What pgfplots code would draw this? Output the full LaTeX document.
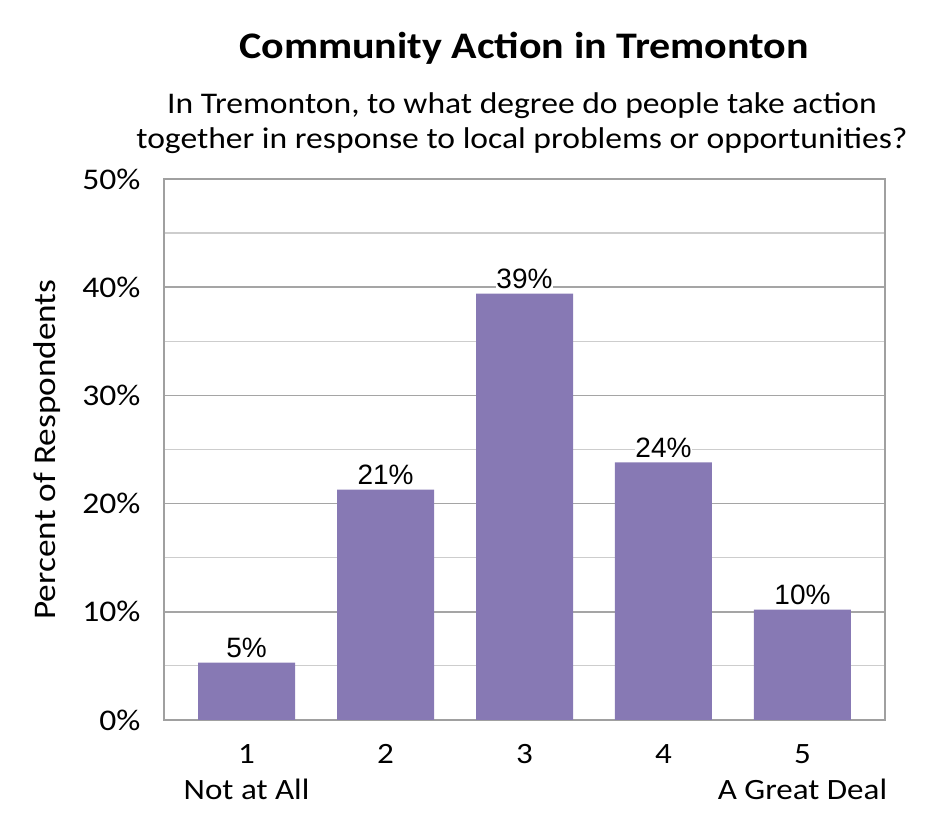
\documentclass[border=0pt]{standalone}
\usepackage{pgfplots}
\pgfplotsset{compat=1.18}
\usepackage{fontspec}
\setmainfont{Carlito}[FakeStretch=1.12]
\newfontfamily\arialfont{Liberation Sans}
\definecolor{barc}{RGB}{135,121,180}
\definecolor{gridmaj}{RGB}{165,165,165}
\definecolor{gridmin}{RGB}{205,205,205}
\definecolor{axc}{RGB}{160,160,160}
\begin{document}
\begin{tikzpicture}[x=1bp,y=1bp]
\path[use as bounding box] (0,0) rectangle (945,840);
\node[font=\fontsize{37.5bp}{44bp}\selectfont\bfseries] at (524,792) {Community Action in Tremonton};
\node[font=\fontsize{30bp}{35bp}\selectfont, align=center] at (522,717) {In Tremonton, to what degree do people take action\\together in response to local problems or opportunities?};
\begin{axis}[
  at={(164bp,120bp)}, anchor=south west,
  scale only axis, width=721bp, height=541bp,
  ymin=0, ymax=50, xmin=0.406, xmax=5.594,
  ybar, bar width=0.698,
  ytick={0,10,...,50}, minor ytick={5,15,...,45},
  yticklabel={\pgfmathprintnumber[assume math mode=true]{\tick}\%},
  xtick={1,2,3,4,5},
  xticklabels={{1\\Not at All},2,3,4,{5\\A Great Deal}},
  xticklabel style={align=center, font=\fontsize{29.5bp}{36bp}\selectfont, yshift=-21bp},
  yticklabel style={font=\fontsize{30bp}{34bp}\selectfont, xshift=-20bp},
  major tick length=0pt, minor tick length=0pt,
  ymajorgrids, yminorgrids,
  major grid style={gridmaj, line width=1.6bp},
  minor grid style={gridmin, line width=1.2bp},
  axis line style={axc, line width=1.8bp},
  ylabel={Percent of Respondents},
  every axis y label/.style={at={(axis description cs:-0.162,0.5)}, rotate=90, anchor=center, font=\fontsize{31.5bp}{36bp}\selectfont},
  nodes near coords={\pgfmathprintnumber[fixed,precision=0,assume math mode=true]{\pgfplotspointmeta}\%},
  nodes near coords style={font=\arialfont\fontsize{28bp}{34bp}\selectfont, fill=white, inner sep=0.5bp, anchor=base, yshift=5bp, text=black},
]
\addplot[fill=barc, draw=none] coordinates {(1,5.3) (2,21.3) (3,39.4) (4,23.8) (5,10.2)};
\end{axis}
\end{tikzpicture}
\end{document}
